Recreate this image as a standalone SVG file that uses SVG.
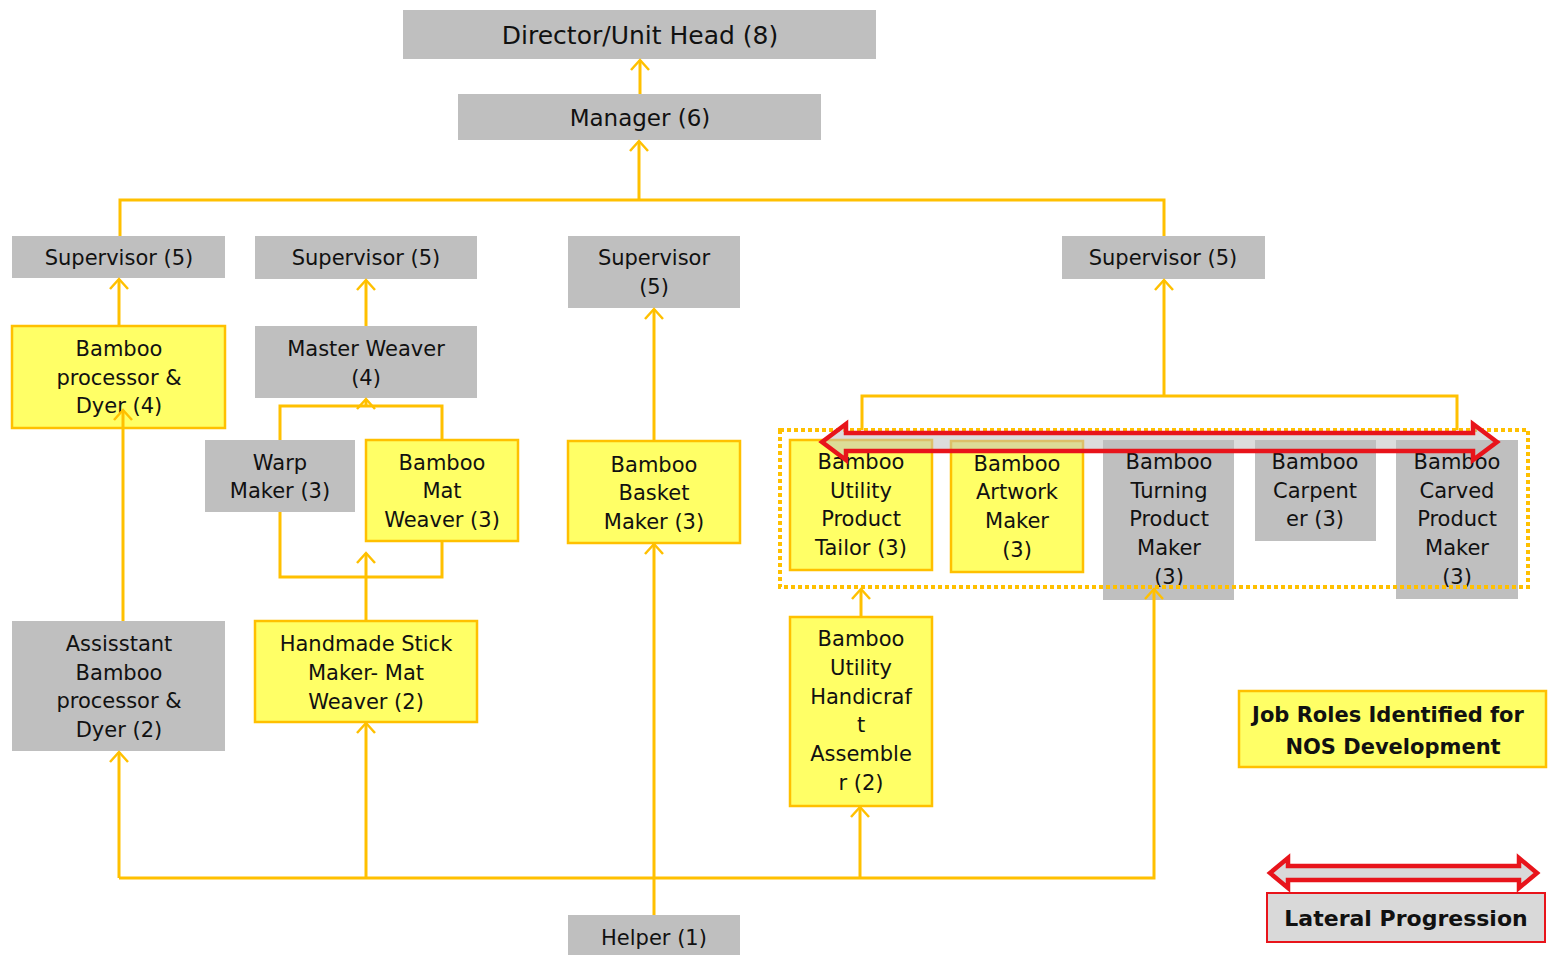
<svg xmlns="http://www.w3.org/2000/svg" width="1552" height="955" viewBox="0 0 1552 955">
<style>
.g{fill:#BFBFBF;stroke:none}
.y{fill:#FFFF66;stroke:#FFC000;stroke-width:2.5}
.t{font-family:"DejaVu Sans",Verdana,sans-serif;font-size:21px;fill:#111;text-anchor:middle}
.b{font-family:"DejaVu Sans",Verdana,sans-serif;font-weight:bold;font-size:21px;fill:#111;text-anchor:middle}
.c{fill:none;stroke:#FFC000;stroke-width:3}
.r{stroke:#E8141B;stroke-width:4.5;stroke-linejoin:miter}
</style>
<defs>
<marker id="a" markerUnits="userSpaceOnUse" markerWidth="14" markerHeight="22" refX="11" refY="10" orient="auto" viewBox="0 0 14 22">
<path d="M1,1 L11,10 L1,19" fill="none" stroke="#FFC000" stroke-width="2.5"/>
</marker>
</defs>
<rect width="1552" height="955" fill="#fff"/>

<g id="director"><rect class="g" x="403" y="10" width="473" height="49"/><text class="t" style="font-size:25px" x="640" y="44">Director/Unit Head (8)</text></g>
<g id="manager"><rect class="g" x="458" y="94" width="363" height="46"/><text class="t" style="font-size:23px" x="640" y="126">Manager (6)</text></g>

<g id="sup1"><rect class="g" x="12" y="236" width="213" height="42"/><text class="t" x="119" y="265">Supervisor (5)</text></g>
<g id="sup2"><rect class="g" x="255" y="236" width="222" height="43"/><text class="t" x="366" y="265">Supervisor (5)</text></g>
<g id="sup3"><rect class="g" x="568" y="236" width="172" height="72"/><text class="t" x="654" y="265">Supervisor</text><text class="t" x="654" y="294">(5)</text></g>
<g id="sup4"><rect class="g" x="1062" y="236" width="203" height="43"/><text class="t" x="1163" y="265">Supervisor (5)</text></g>

<g id="processor"><rect class="y" x="12" y="326" width="213" height="102"/><text class="t" x="119" y="356">Bamboo</text><text class="t" x="119" y="385">processor &amp;</text><text class="t" x="119" y="413">Dyer (4)</text></g>
<g id="masterweaver"><rect class="g" x="255" y="326" width="222" height="72"/><text class="t" x="366" y="356">Master Weaver</text><text class="t" x="366" y="385">(4)</text></g>
<g id="warp"><rect class="g" x="205" y="440" width="150" height="72"/><text class="t" x="280" y="470">Warp</text><text class="t" x="280" y="498">Maker (3)</text></g>
<g id="matweaver"><rect class="y" x="366" y="440" width="152" height="101"/><text class="t" x="442" y="470">Bamboo</text><text class="t" x="442" y="498">Mat</text><text class="t" x="442" y="527">Weaver (3)</text></g>
<g id="basket"><rect class="y" x="568" y="441" width="172" height="102"/><text class="t" x="654" y="472">Bamboo</text><text class="t" x="654" y="500">Basket</text><text class="t" x="654" y="529">Maker (3)</text></g>
<g id="stick"><rect class="y" x="255" y="621" width="222" height="101"/><text class="t" x="366" y="651">Handmade Stick</text><text class="t" x="366" y="680">Maker- Mat</text><text class="t" x="366" y="709">Weaver (2)</text></g>
<g id="assistant"><rect class="g" x="12" y="621" width="213" height="130"/><text class="t" x="119" y="651">Assisstant</text><text class="t" x="119" y="680">Bamboo</text><text class="t" x="119" y="708">processor &amp;</text><text class="t" x="119" y="737">Dyer (2)</text></g>
<g id="helper"><rect class="g" x="568" y="915" width="172" height="45"/><text class="t" x="654" y="945">Helper (1)</text></g>
<g id="assembler"><rect class="y" x="790" y="617" width="142" height="189"/><text class="t" x="861" y="646">Bamboo</text><text class="t" x="861" y="675">Utility</text><text class="t" x="861" y="704">Handicraf</text><text class="t" x="861" y="732">t</text><text class="t" x="861" y="761">Assemble</text><text class="t" x="861" y="790">r (2)</text></g>

<g id="tailor"><rect class="y" x="790" y="440" width="142" height="130"/><text class="t" x="861" y="469">Bamboo</text><text class="t" x="861" y="498">Utility</text><text class="t" x="861" y="526">Product</text><text class="t" x="861" y="555">Tailor (3)</text></g>
<g id="artwork"><rect class="y" x="951" y="441" width="132" height="131"/><text class="t" x="1017" y="471">Bamboo</text><text class="t" x="1017" y="499">Artwork</text><text class="t" x="1017" y="528">Maker</text><text class="t" x="1017" y="557">(3)</text></g>
<g id="turning"><rect class="g" x="1103" y="440" width="131" height="160"/><text class="t" x="1169" y="469">Bamboo</text><text class="t" x="1169" y="498">Turning</text><text class="t" x="1169" y="526">Product</text><text class="t" x="1169" y="555">Maker</text><text class="t" x="1169" y="584">(3)</text></g>
<g id="carpenter"><rect class="g" x="1255" y="440" width="121" height="101"/><text class="t" x="1315" y="469">Bamboo</text><text class="t" x="1315" y="498">Carpent</text><text class="t" x="1315" y="526">er (3)</text></g>
<g id="carved"><rect class="g" x="1396" y="440" width="122" height="159"/><text class="t" x="1457" y="469">Bamboo</text><text class="t" x="1457" y="498">Carved</text><text class="t" x="1457" y="526">Product</text><text class="t" x="1457" y="555">Maker</text><text class="t" x="1457" y="584">(3)</text></g>

<g id="group-box"><rect x="780" y="430" width="748" height="157" fill="none" stroke="#FFC000" stroke-width="4" stroke-dasharray="4 3"/></g>

<g id="connectors">
<path class="c" d="M640,94 V60" marker-end="url(#a)"/>
<path class="c" d="M120,236 V200 H1164 V236"/>
<path class="c" d="M639,200 V141" marker-end="url(#a)"/>
<path class="c" d="M119,326 V279" marker-end="url(#a)"/>
<path class="c" d="M366,326 V280" marker-end="url(#a)"/>
<path class="c" d="M280,440 V406 H442 V440"/>
<path class="c" d="M366,406 V399" marker-end="url(#a)"/>
<path class="c" d="M280,512 V577 H442 V541"/>
<path class="c" d="M366,621 V553" marker-end="url(#a)"/>
<path class="c" d="M654,441 V309" marker-end="url(#a)"/>
<path class="c" d="M654,915 V544" marker-end="url(#a)"/>
<path class="c" d="M123,621 V410" marker-end="url(#a)"/>
<path class="c" d="M119,878 V752" marker-end="url(#a)"/>
<path class="c" d="M119,878 H1154 V589" marker-end="url(#a)"/>
<path class="c" d="M366,878 V723" marker-end="url(#a)"/>
<path class="c" d="M860,878 V807" marker-end="url(#a)"/>
<path class="c" d="M861,617 V589" marker-end="url(#a)"/>
<path class="c" d="M1164,396 V280" marker-end="url(#a)"/>
<path class="c" d="M862,430 V396 H1457 V430"/>
</g>

<g id="lateral-arrow">
<polygon class="r" fill="#BFBFBF" fill-opacity="0.55" points="822,442 846,424 846,433 1473,433 1473,424 1497,442 1473,460 1473,451 846,451 846,460"/>
</g>

<g id="legend-job">
<rect class="y" x="1239" y="691" width="307" height="76"/>
<text class="b" x="1388" y="722">Job Roles Identified for</text>
<text class="b" x="1393" y="754">NOS Development</text>
</g>
<g id="legend-lateral">
<polygon class="r" stroke-width="3.5" fill="#D9D9D9" points="1270,873 1288,858 1288,866 1519,866 1519,858 1537,873 1519,888 1519,880 1288,880 1288,888"/>
<rect x="1267" y="893" width="278" height="49" fill="#D9D9D9" stroke="#E8141B" stroke-width="2"/>
<text class="b" style="font-size:22px" x="1406" y="926">Lateral Progression</text>
</g>
</svg>
